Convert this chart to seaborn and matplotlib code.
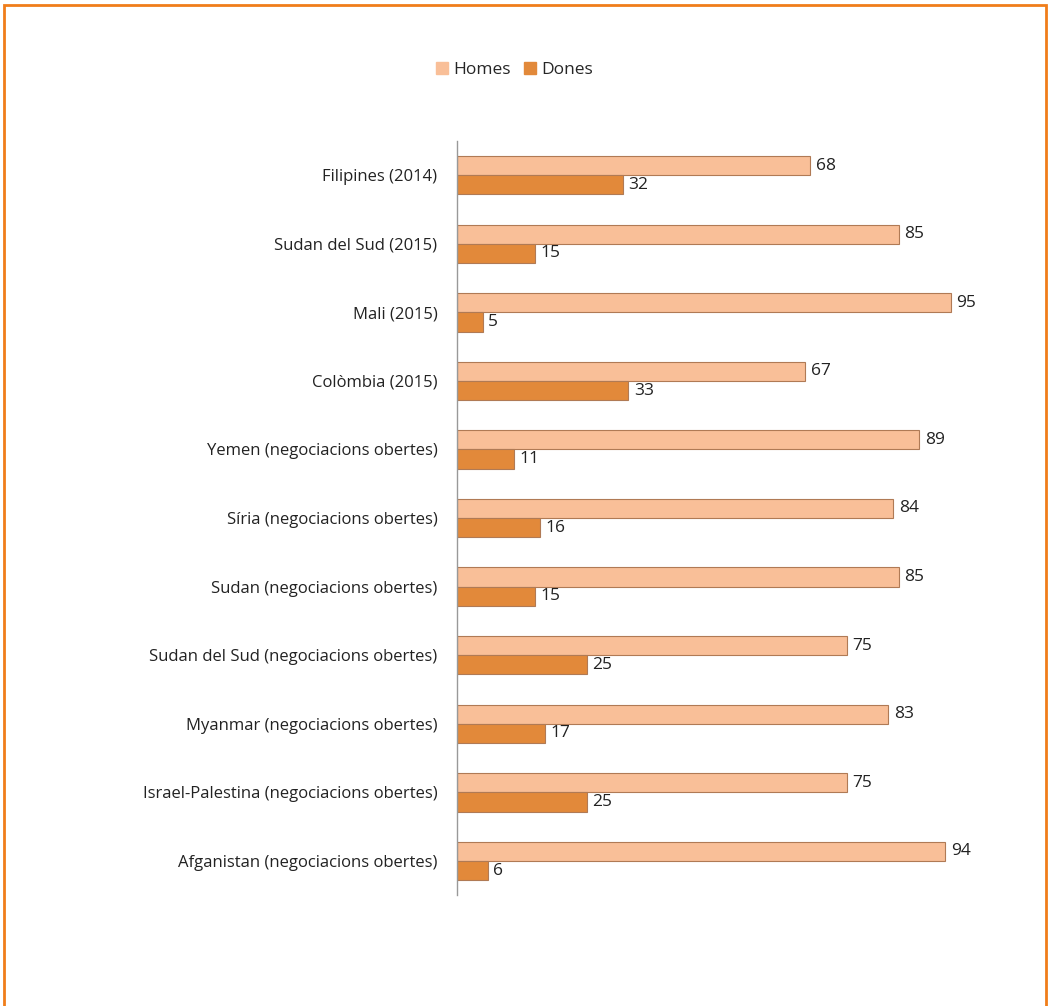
import matplotlib
matplotlib.use("Agg")
import matplotlib.pyplot as plt
import matplotlib.patches as mpatches
import seaborn as sns
import pandas as pd

categories = [
    "Filipines (2014)",
    "Sudan del Sud (2015)",
    "Mali (2015)",
    "Colòmbia (2015)",
    "Yemen (negociacions obertes)",
    "Síria (negociacions obertes)",
    "Sudan (negociacions obertes)",
    "Sudan del Sud (negociacions obertes)",
    "Myanmar (negociacions obertes)",
    "Israel-Palestina (negociacions obertes)",
    "Afganistan (negociacions obertes)",
]
homes = [68, 85, 95, 67, 89, 84, 85, 75, 83, 75, 94]
dones = [32, 15, 5, 33, 11, 16, 15, 25, 17, 25, 6]
series = ["Homes", "Dones"]
colors = ["#F9BF98", "#E2893A"]

df = pd.DataFrame({
    "pais": categories * 2,
    "valor": homes + dones,
    "sexe": ["Homes"] * len(categories) + ["Dones"] * len(categories),
})

sns.set_theme(style="white")
plt.rcParams["font.family"] = ["Open Sans", "DejaVu Sans"]

fig = plt.figure(figsize=(10.5, 10.06), dpi=100)
ax = fig.add_axes([0.435, 0.11, 0.495, 0.75])

sns.barplot(data=df, y="pais", x="valor", hue="sexe", hue_order=series,
            palette=colors, saturation=1, orient="h", width=0.56, ax=ax,
            edgecolor="#B07A55", linewidth=0.8, legend=False)

for cont in ax.containers:
    ax.bar_label(cont, padding=4, fontsize=12.5, color="#222222")

ax.set_xlim(0, 100)
ax.set_xlabel("")
ax.set_ylabel("")
ax.set_xticks([])
ax.tick_params(axis="y", length=0, labelsize=12, labelcolor="#222222", pad=14)
for s in ["top", "right", "bottom"]:
    ax.spines[s].set_visible(False)
ax.spines["left"].set_color("#999999")
ax.spines["left"].set_linewidth(1)

handles = [mpatches.Patch(color=c, label=s) for c, s in zip(colors, series)]
fig.legend(handles=handles, loc="center", bbox_to_anchor=(0.49, 0.93), ncol=2,
           frameon=False, fontsize=12.5, handlelength=0.7, handleheight=0.7,
           handletextpad=0.3, columnspacing=0.8)

fig.patches.append(mpatches.Rectangle((0.004, -0.01), 0.992, 1.005,
                                      transform=fig.transFigure, fill=False,
                                      edgecolor="#F07D1A", linewidth=2))

fig.savefig("out.png", dpi=100)
